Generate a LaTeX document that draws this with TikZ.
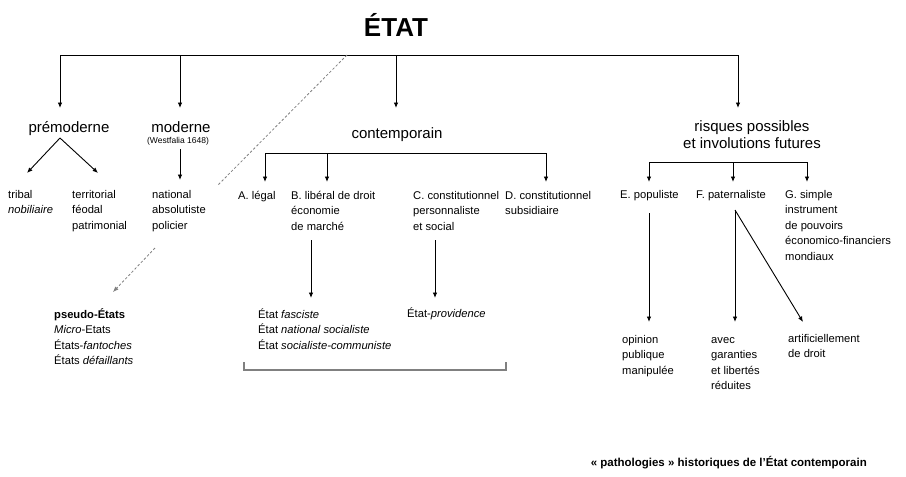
\documentclass[tikz,border=0pt]{standalone}
\usepackage{fontspec}
\setmainfont{Liberation Sans}
\usetikzlibrary{arrows.meta}

\begin{document}
\begin{tikzpicture}[x=1pt, y=-1pt,
    fleche/.style={-{Latex[length=5.5pt,width=4.5pt]}, line width=.9pt},
    pseudo/.style={gray, line width=.8pt, dash pattern=on 2.5pt off 2pt},
    txt/.style={anchor=base west, inner sep=0pt, align=left, font=\fontsize{11.2}{15.5}\selectfont},
    niveau/.style={anchor=base, inner sep=0pt, align=center, font=\fontsize{15}{17}\selectfont}]
  \useasboundingbox (0,0) rectangle (906,477);
  \node[anchor=base, inner sep=0pt, font=\fontsize{26}{26}\selectfont\bfseries] (etat) at (396,36) {ÉTAT};

  % barre principale
  \coordinate (b1) at (60,55);
  \coordinate (b2) at (180,55);
  \coordinate (b3) at (396,55);
  \coordinate (b4) at (738,55);
  \coordinate (t1) at (60,108);
  \coordinate (t2) at (180,108);
  \coordinate (t3) at (396,108);
  \coordinate (t4) at (738,108);
  \draw[line width=1pt] (b1) -- (b4);
  \draw[fleche] (b1) -- (t1);
  \draw[fleche] (b2) -- (t2);
  \draw[fleche] (b3) -- (t3);
  \draw[fleche] (b4) -- (t4);

  % pseudo-Etats
  \coordinate (d1) at (347,55);
  \coordinate (d2) at (218,185);
  \coordinate (d3) at (155,248);
  \coordinate (d4) at (113,292);
  \draw[pseudo] (d1) -- (d2);
  \draw[pseudo, -{Latex[length=5.5pt,width=4.5pt]}] (d3) -- (d4);

  \node[niveau] (premod) at (69,132) {prémoderne};
  \node[niveau] (mod) at (181,132) {moderne};
  \node[anchor=base, inner sep=0pt, font=\fontsize{8.5}{10}\selectfont] (westf) at (178,143) {(Westfalia 1648)};
  \node[niveau] (contemp) at (397,138) {contemporain};
  \node[niveau] (risques) at (752,148) {risques possibles\\et involutions futures};

  % premoderne
  \coordinate (pm) at (60,138);
  \coordinate (pm1) at (27,173);
  \coordinate (pm2) at (98,173);
  \draw[fleche] (pm) -- (pm1);
  \draw[fleche] (pm) -- (pm2);
  \node[txt] (tribal) at (8,213.5) {tribal\\\textit{nobiliaire}};
  \node[txt] (terr) at (72,229) {territorial\\féodal\\patrimonial};

  % moderne
  \coordinate (m1) at (180,149);
  \coordinate (m2) at (180,180);
  \draw[fleche] (m1) -- (m2);
  \node[txt] (natio) at (152,229) {national\\absolutiste\\policier};

  % contemporain
  \coordinate (ca) at (265,153);
  \coordinate (cb) at (327,153);
  \coordinate (cd) at (546,153);
  \coordinate (ta) at (265,182);
  \coordinate (tb) at (327,182);
  \coordinate (td) at (546,182);
  \draw[line width=1pt] (ca) -- (cd);
  \draw[fleche] (ca) -- (ta);
  \draw[fleche] (cb) -- (tb);
  \draw[fleche] (cd) -- (td);
  \node[txt] (legal) at (238,199) {A. légal};
  \node[txt] (liberal) at (291,230) {B. libéral de droit\\économie\\de marché};
  \node[txt] (perso) at (413,230) {C. constitutionnel\\personnaliste\\et social};
  \node[txt] (subsi) at (505,214.5) {D. constitutionnel\\subsidiaire};

  \coordinate (lb1) at (311,240);
  \coordinate (lb2) at (311,298);
  \coordinate (pc1) at (435,240);
  \coordinate (pc2) at (435,298);
  \draw[fleche] (lb1) -- (lb2);
  \draw[fleche] (pc1) -- (pc2);
  \node[txt] (fasc) at (258,349) {État \textit{fasciste}\\État \textit{national socialiste}\\État \textit{socialiste-communiste}};
  \node[txt] (provi) at (407,317) {État-\textit{providence}};
  \node[txt] (pseudoet) at (54,364.5) {\textbf{pseudo-États}\\\textit{Micro}-Etats\\États-\textit{fantoches}\\États \textit{défaillants}};

  % crochet
  \coordinate (k1) at (244,362);
  \coordinate (k2) at (244,370);
  \coordinate (k3) at (506,370);
  \coordinate (k4) at (506,362);
  \draw[gray, line width=1.2pt] (k1) -- (k2) -- (k3) -- (k4);

  % risques
  \coordinate (re) at (649,162);
  \coordinate (rf) at (733,162);
  \coordinate (rg) at (807,162);
  \coordinate (se) at (649,182);
  \coordinate (sf) at (733,182);
  \coordinate (sg) at (807,182);
  \draw[line width=1pt] (re) -- (rg);
  \draw[fleche] (re) -- (se);
  \draw[fleche] (rf) -- (sf);
  \draw[fleche] (rg) -- (sg);
  \node[txt] (popu) at (620,198) {E. populiste};
  \node[txt] (pater) at (696,198) {F. paternaliste};
  \node[txt] (simple) at (785,260) {G. simple\\instrument\\de pouvoirs\\économico-financiers\\mondiaux};

  \coordinate (e1) at (649,213);
  \coordinate (e2) at (649,322);
  \coordinate (f1) at (735,210);
  \coordinate (f2) at (735,322);
  \coordinate (f3) at (803,322);
  \draw[fleche] (e1) -- (e2);
  \draw[fleche] (f1) -- (f2);
  \draw[fleche] (f1) -- (f3);
  \node[txt] (opin) at (622,374) {opinion\\publique\\manipulée};
  \node[txt] (avec) at (711,389.5) {avec\\garanties\\et libertés\\réduites};
  \node[txt] (artif) at (788,357.5) {artificiellement\\de droit};

  \node[anchor=base east, inner sep=0pt, font=\fontsize{11.5}{13}\selectfont\bfseries] (titre) at (867,466) {« pathologies » historiques de l’État contemporain};
\end{tikzpicture}
\end{document}
